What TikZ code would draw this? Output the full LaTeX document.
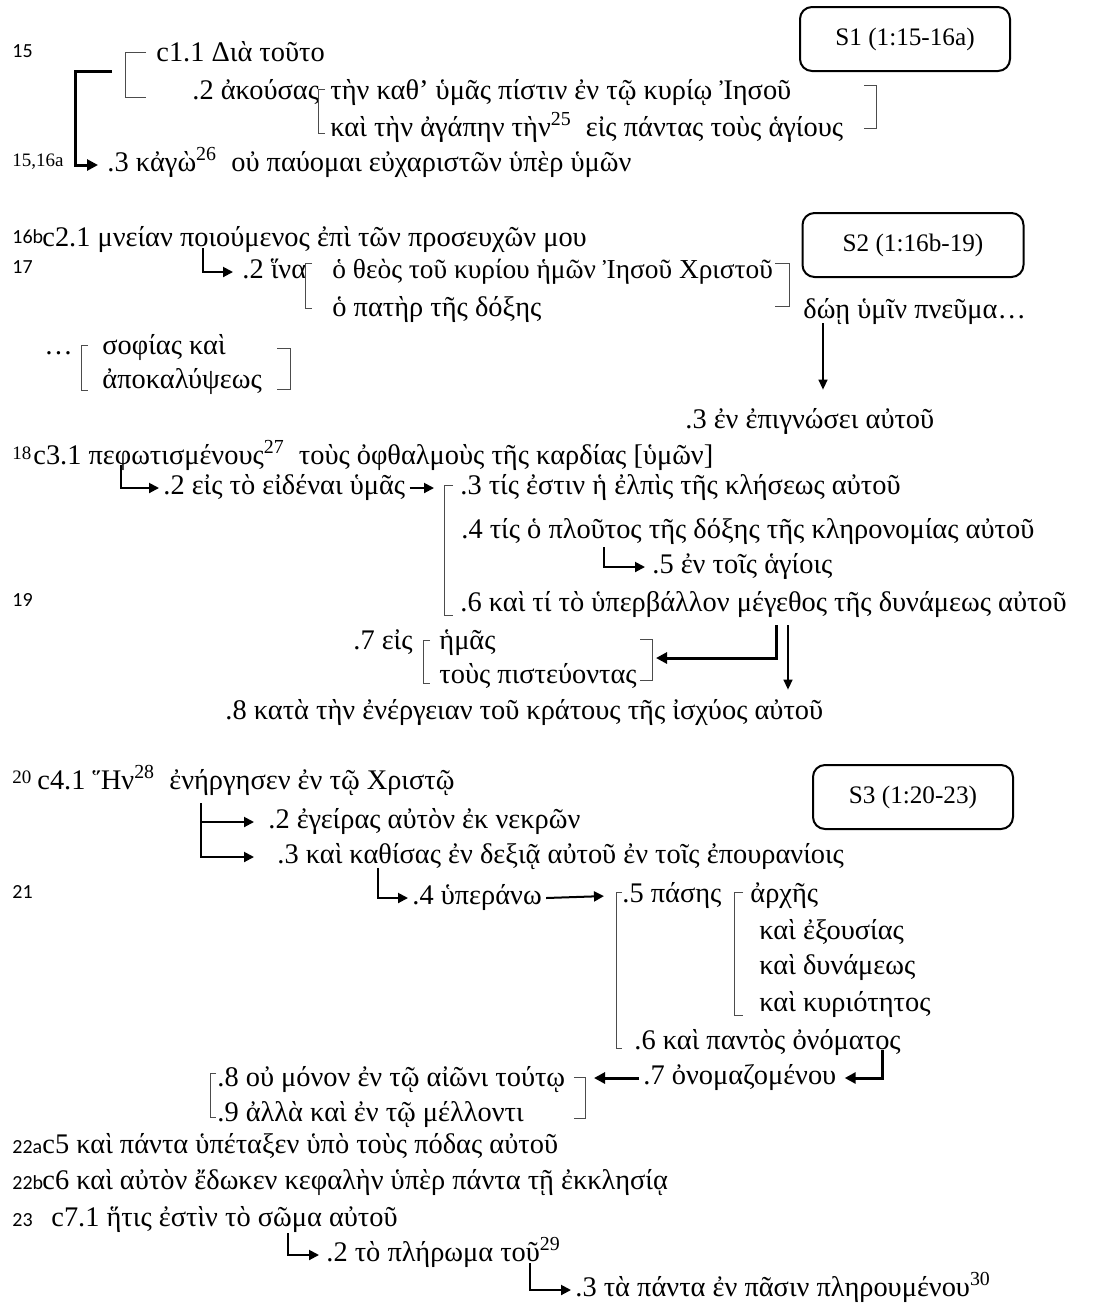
\documentclass[tikz,border=0pt]{standalone}
\usepackage{fontspec}
\setmainfont{Liberation Serif}
\newfontfamily\versefont{Carlito}
\usetikzlibrary{arrows.meta}
\tikzstyle{txt} = [anchor=west, inner sep=2pt, text height=9pt, text depth=3pt, font=\fontsize{14.2}{17}\selectfont]
\tikzstyle{verse} = [anchor=west, inner sep=0pt, font=\versefont\fontsize{10}{12}\selectfont]
\tikzstyle{verseb} = [anchor=west, inner sep=0pt, font=\fontsize{9.5}{11}\selectfont]
\tikzstyle{sbox} = [rectangle, rounded corners=6pt, minimum height=32pt, text centered, draw=black, line width=1pt, font=\fontsize{12.6}{15}\selectfont]
\tikzstyle{brk} = [line width=0.5pt, draw=black!70]
\tikzstyle{arrow} = [line width=1pt, -{Triangle[length=5pt,width=5pt]}, shorten >=1pt]
\tikzstyle{thickarrow} = [line width=1.5pt, -{Triangle[length=5.5pt,width=5.5pt]}, shorten >=1pt]
\tikzstyle{thinarrow} = [line width=0.7pt, -{Triangle[length=5pt,width=4.5pt]}]

\begin{document}
\begin{tikzpicture}[x=0.5pt, y=-0.5pt]
    \useasboundingbox (0,0) rectangle (1100,1314);
    % S1
    \node (v15) [verse] at (12,51) {15};
    \node (c11) [txt] at (152,55) {c1.1 Διὰ τοῦτο};
    \node (c12) [txt] at (188,93) {.2 ἀκούσας};
    \node (c12a) [txt] at (326,93) {τὴν καθ’ ὑμᾶς πίστιν ἐν τῷ κυρίῳ Ἰησοῦ};
    \node (c12b) [txt] at (326,130) {καὶ τὴν ἀγάπην τὴν\textsuperscript{25}\ \ εἰς πάντας τοὺς ἁγίους};
    \node (v1516a) [verseb] at (12,162) {15,16a};
    \node (c13) [txt] at (103,165) {.3 κἀγὼ\textsuperscript{26}\ \ οὐ παύομαι εὐχαριστῶν ὑπὲρ ὑμῶν};
    \node (s1) [sbox, minimum width=105pt] at (905,39) {S1 (1:15-16a)};
    % S2
    \node (v16b) [verse] at (12,237) {16b};
    \node (c21) [txt] at (38,240) {c2.1 μνείαν ποιούμενος ἐπὶ τῶν προσευχῶν μου};
    \node (v17) [verse] at (12,267) {17};
    \node (c22) [txt] at (238,272) {.2 ἵνα};
    \node (c22a) [txt, font=\fontsize{13.7}{17}\selectfont] at (328,272) {ὁ θεὸς τοῦ κυρίου ἡμῶν Ἰησοῦ Χριστοῦ};
    \node (c22b) [txt] at (328,310) {ὁ πατὴρ τῆς δόξης};
    \node (s2) [sbox, minimum width=110.5pt] at (913,245) {S2 (1:16b-19)};
    \node (doe) [txt] at (799,312) {δώῃ ὑμῖν πνεῦμα…};
    \node (dots) [txt] at (40,348) {…};
    \node (sof) [txt] at (98,348) {σοφίας καὶ};
    \node (apok) [txt] at (98,382) {ἀποκαλύψεως};
    \node (c23) [txt] at (681,422) {.3 ἐν ἐπιγνώσει αὐτοῦ};
    \node (v18) [verseb] at (12,453) {18};
    \node (c31) [txt] at (29,458) {c3.1 πεφωτισμένους\textsuperscript{27}\ \ τοὺς ὀφθαλμοὺς τῆς καρδίας [ὑμῶν]};
    \node (c32) [txt] at (159,488) {.2 εἰς τὸ εἰδέναι ὑμᾶς};
    \node (c33) [txt] at (456,488) {.3 τίς ἐστιν ἡ ἐλπὶς τῆς κλήσεως αὐτοῦ};
    \node (c34) [txt] at (457,532) {.4 τίς ὁ πλοῦτος τῆς δόξης τῆς κληρονομίας αὐτοῦ};
    \node (c35) [txt] at (648,567) {.5 ἐν τοῖς ἁγίοις};
    \node (v19) [verse] at (12,600) {19};
    \node (c36) [txt] at (456,605) {.6 καὶ τί τὸ ὑπερβάλλον μέγεθος τῆς δυνάμεως αὐτοῦ};
    \node (c37) [txt] at (349,643) {.7 εἰς};
    \node (c37a) [txt] at (435,643) {ἡμᾶς};
    \node (c37b) [txt] at (435,677) {τοὺς πιστεύοντας};
    \node (c38) [txt] at (221,713) {.8 κατὰ τὴν ἐνέργειαν τοῦ κράτους τῆς ἰσχύος αὐτοῦ};
    % S3
    \node (v20) [verseb] at (12,777) {20};
    \node (c41) [txt] at (33,783) {c4.1 Ἥν\textsuperscript{28}\ \ ἐνήργησεν ἐν τῷ Χριστῷ};
    \node (s3) [sbox, minimum width=100pt] at (913,797) {S3 (1:20-23)};
    \node (c42) [txt] at (264,822) {.2 ἐγείρας αὐτὸν ἐκ νεκρῶν};
    \node (c43) [txt] at (273,857) {.3 καὶ καθίσας ἐν δεξιᾷ αὐτοῦ ἐν τοῖς ἐπουρανίοις};
    \node (v21) [verse] at (12,892) {21};
    \node (c44) [txt] at (408,898) {.4 ὑπεράνω};
    \node (c45) [txt] at (618,896) {.5 πάσης};
    \node (arch) [txt] at (746,896) {ἀρχῆς};
    \node (exou) [txt] at (755,933) {καὶ ἐξουσίας};
    \node (dyn) [txt] at (755,968) {καὶ δυνάμεως};
    \node (kyr) [txt] at (755,1005) {καὶ κυριότητος};
    \node (c46) [txt] at (630,1043) {.6 καὶ παντὸς ὀνόματος};
    \node (c47) [txt] at (639,1078) {.7 ὀνομαζομένου};
    \node (c48) [txt] at (213,1080) {.8 οὐ μόνον ἐν τῷ αἰῶνι τούτῳ};
    \node (c49) [txt] at (213,1115) {.9 ἀλλὰ καὶ ἐν τῷ μέλλοντι};
    \node (v22a) [verse] at (12,1147) {22a};
    \node (c5) [txt] at (38,1147) {c5 καὶ πάντα ὑπέταξεν ὑπὸ τοὺς πόδας αὐτοῦ};
    \node (v22b) [verse] at (12,1183) {22b};
    \node (c6) [txt] at (38,1183) {c6 καὶ αὐτὸν ἔδωκεν κεφαλὴν ὑπὲρ πάντα τῇ ἐκκλησίᾳ};
    \node (v23) [verse] at (12,1220) {23};
    \node (c71) [txt] at (47,1220) {c7.1 ἥτις ἐστὶν τὸ σῶμα αὐτοῦ};
    \node (c72) [txt] at (322,1255) {.2 τὸ πλήρωμα τοῦ\textsuperscript{29}};
    \node (c73) [txt] at (571,1290) {.3 τὰ πάντα ἐν πᾶσιν πληρουμένου\textsuperscript{30}};
    % brackets
    \draw [brk] (146,52) -| (125,97) -- (146,97);
    \draw [brk] (325,89) -| (318,133) -- (325,133);
    \draw [brk] (864,85) -| (876,128) -- (864,128);
    \draw [brk] (312,263) -| (305,308) -- (312,308);
    \draw [brk] (775,263) -| (789,306) -- (775,306);
    \draw [brk] (88,345) -| (81,390) -- (88,390);
    \draw [brk] (277,348) -| (290,389) -- (277,389);
    \draw [brk] (453,485) -| (444,615) -- (453,615);
    \draw [brk] (430,640) -| (423,683) -- (430,683);
    \draw [brk] (640,639) -| (652,680) -- (640,680);
    \draw [brk] (622,892) -| (616,1048) -- (622,1048);
    \draw [brk] (743,892) -| (734,1015) -- (743,1015);
    \draw [brk] (216,1073) -| (210,1117) -- (216,1117);
    \draw [brk] (574,1077) -| (585,1118) -- (574,1118);
    % arrow ends
    \coordinate (k1) at (112,71);
    \coordinate (k1a) at (75,71);
    \coordinate (k2) at (203,248);
    \coordinate (k3) at (823,323);
    \coordinate (k4) at (121,465);
    \coordinate (b8) at (436,488);
    \coordinate (k6) at (604,547);
    \coordinate (k7) at (776,625);
    \coordinate (b10) at (654,658);
    \coordinate (k8) at (788,625);
    \coordinate (k9) at (201,803);
    \coordinate (k11) at (378,868);
    \coordinate (b11) at (606,896);
    \coordinate (k13) at (882,1050);
    \coordinate (b14) at (592,1078);
    \coordinate (k15) at (288,1233);
    \coordinate (k16) at (530,1263);
    % arrows
    \draw [thickarrow, shorten >=2.5pt] (k1) -- (k1a) |- (c13.west);
    \draw [arrow, shorten >=2.5pt] (k2) |- (c22.west);
    \draw [thinarrow, shorten >=8pt] (k3) -- (k3 |- c23.north);
    \draw [arrow, shorten >=0pt] (k4) |- (c32.west);
    \draw [arrow] (c32.east) -- (b8);
    \draw [arrow, shorten >=1.5pt] (k6) |- (c35.west);
    \draw [thickarrow] (k7) |- (b10);
    \draw [thinarrow, shorten >=3.5pt] (k8) -- (k8 |- c38.north);
    \draw [arrow, shorten >=5pt] (k9) |- (c42.west);
    \draw [arrow, shorten >=9.5pt] (k9) |- (c43.west);
    \draw [arrow, shorten >=0pt] (k11) |- (c44.west);
    \draw [arrow] (c44.east) -- (b11);
    \draw [thickarrow, shorten >=2pt] (k13) |- (c47.east);
    \draw [thickarrow] (c47.west) -- (b14);
    \draw [arrow, shorten >=1.5pt] (k15) |- (c72.west);
    \draw [arrow, shorten >=0pt] (k16) |- (c73.west);
\end{tikzpicture}
\end{document}
